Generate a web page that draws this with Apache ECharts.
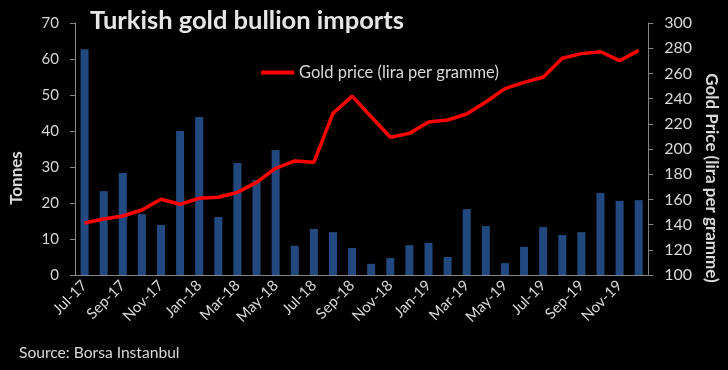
<!DOCTYPE html>
<html>
<head>
<meta charset="utf-8">
<script src="https://cdn.jsdelivr.net/npm/echarts@6/dist/echarts.min.js"></script>
<style>
html,body{margin:0;padding:0;background:#000;}
#c{width:728px;height:370px;}
</style>
</head>
<body>
<div id="c"></div>
<script>
var categories = ['Jul-17','Aug-17','Sep-17','Oct-17','Nov-17','Dec-17',
  'Jan-18','Feb-18','Mar-18','Apr-18','May-18','Jun-18','Jul-18','Aug-18','Sep-18','Oct-18','Nov-18','Dec-18',
  'Jan-19','Feb-19','Mar-19','Apr-19','May-19','Jun-19','Jul-19','Aug-19','Sep-19','Oct-19','Nov-19','Dec-19'];
var importsTonnes = [62.7, 23.3, 28.3, 16.9, 13.9, 40.0, 43.9, 16.1, 31.1, 26.4, 34.7, 8.1,
  12.8, 11.9, 7.5, 3.1, 4.7, 8.3, 8.9, 5.0, 18.3, 13.6, 3.3, 7.8, 13.3, 11.1, 11.9, 22.8, 20.6, 20.8];
var goldPrice = [141.3, 144.4, 146.8, 151.6, 160.1, 156.1, 160.9, 161.7, 165.6, 173.5, 184.7, 190.5,
  189.4, 228.3, 242.0, 225.6, 209.3, 212.4, 221.4, 223.0, 227.8, 237.3, 247.9, 252.9, 256.9, 272.0, 275.7, 277.2, 270.1, 278.3];
var leftTicks = [0, 70, 10];
var rightTicks = [100, 300, 20];

var FONT = 'Lato';
var chart = echarts.init(document.getElementById('c'), null, {renderer: 'canvas'});
chart.setOption({
  backgroundColor: '#000000',
  animation: false,
  textStyle: {fontFamily: FONT},
  title: {
    text: 'Turkish gold bullion imports',
    left: 85, top: 3,
    textStyle: {color: '#e6e6e6', fontSize: 25.5, fontWeight: 'bold', fontFamily: FONT}
  },
  legend: {
    data: ['Gold price (lira per gramme)'],
    left: 256, top: 59,
    icon: 'rect', itemWidth: 33, itemHeight: 4, itemGap: 4,
    textStyle: {color: '#d9d9d9', fontSize: 16.5, fontFamily: FONT}
  },
  graphic: [{
    type: 'text', left: 19, top: 345,
    style: {text: 'Source: Borsa Instanbul', fill: '#d9d9d9', font: '15.6px ' + FONT}
  }],
  grid: {left: 74, right: 71, top: 23, bottom: 95},
  xAxis: {
    type: 'category',
    data: categories,
    boundaryGap: true,
    axisLine: {lineStyle: {color: '#868686', width: 1}},
    axisTick: {interval: 1, length: 5, lineStyle: {color: '#868686'}},
    axisLabel: {interval: 1, rotate: 45, color: '#d9d9d9', fontSize: 15, margin: 8, fontFamily: FONT}
  },
  yAxis: [{
    type: 'value',
    min: leftTicks[0], max: leftTicks[1], interval: leftTicks[2],
    name: 'Tonnes',
    nameLocation: 'middle',
    nameGap: 50,
    nameTextStyle: {color: '#d9d9d9', fontSize: 17, fontWeight: 'bold', fontFamily: FONT, padding: [0, 58, 0, 0]},
    splitLine: {show: false},
    axisLine: {show: true, lineStyle: {color: '#868686'}},
    axisTick: {show: true, length: 5, lineStyle: {color: '#868686'}},
    axisLabel: {color: '#d9d9d9', fontSize: 15, margin: 16, fontFamily: FONT}
  }, {
    type: 'value',
    position: 'right',
    min: rightTicks[0], max: rightTicks[1], interval: rightTicks[2],
    name: 'Gold Price (lira per gramme)',
    nameLocation: 'middle',
    nameRotate: -90,
    nameGap: 50,
    nameTextStyle: {color: '#d9d9d9', fontSize: 17, fontWeight: 'bold', fontFamily: FONT, padding: [0, 0, 0, 58]},
    splitLine: {show: false},
    axisLine: {show: true, lineStyle: {color: '#868686'}},
    axisTick: {show: true, length: 5, lineStyle: {color: '#868686'}},
    axisLabel: {color: '#d9d9d9', fontSize: 16, margin: 16, fontFamily: FONT}
  }],
  series: [{
    name: 'Gold bullion imports (tonnes)',
    type: 'bar',
    yAxisIndex: 0,
    data: importsTonnes,
    barWidth: 8,
    itemStyle: {color: '#22497F'}
  }, {
    name: 'Gold price (lira per gramme)',
    type: 'line',
    yAxisIndex: 1,
    data: goldPrice,
    symbol: 'none',
    lineStyle: {color: '#FF0000', width: 3.5},
    itemStyle: {color: '#FF0000'},
    z: 5
  }]
});
</script>
</body>
</html>
